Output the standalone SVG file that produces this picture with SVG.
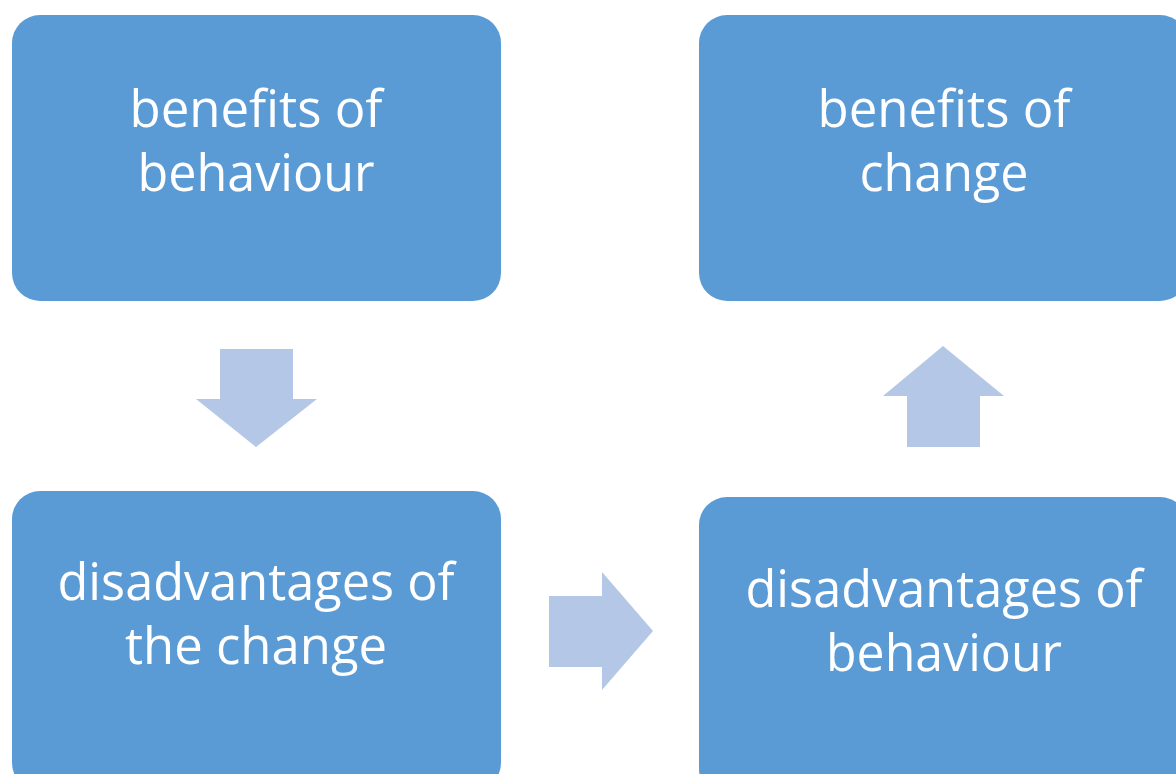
<svg xmlns="http://www.w3.org/2000/svg" width="1176" height="774" viewBox="0 0 1176 774">
<style>
.box{fill:#5B9BD5;}
.arr{fill:#B4C7E7;}
.t{font-family:"Open Sans","Liberation Sans",sans-serif;font-size:51px;fill:#FFFFFF;text-anchor:middle;}
</style>
<rect width="1176" height="774" fill="#FFFFFF"/>
<g id="node-benefits-behaviour">
<rect class="box" x="12" y="15" width="489" height="286" rx="28"/>
<text class="t" x="256" y="127" textLength="253" lengthAdjust="spacingAndGlyphs">benefits of</text>
<text class="t" x="256" y="191" textLength="237" lengthAdjust="spacingAndGlyphs">behaviour</text>
</g>
<g id="node-benefits-change">
<rect class="box" x="699" y="15" width="489" height="286" rx="28"/>
<text class="t" x="944" y="127" textLength="253" lengthAdjust="spacingAndGlyphs">benefits of</text>
<text class="t" x="944" y="191" textLength="169" lengthAdjust="spacingAndGlyphs">change</text>
</g>
<g id="node-disadvantages-change">
<rect class="box" x="12" y="491" width="489" height="300" rx="28"/>
<text class="t" x="256" y="600" textLength="397" lengthAdjust="spacingAndGlyphs">disadvantages of</text>
<text class="t" x="256" y="664" textLength="262" lengthAdjust="spacingAndGlyphs">the change</text>
</g>
<g id="node-disadvantages-behaviour">
<rect class="box" x="699" y="497" width="489" height="300" rx="28"/>
<text class="t" x="944" y="607" textLength="397" lengthAdjust="spacingAndGlyphs">disadvantages of</text>
<text class="t" x="944" y="671" textLength="236" lengthAdjust="spacingAndGlyphs">behaviour</text>
</g>
<g id="connectors">
<polygon class="arr" points="220,349 293,349 293,399 317,399 256,447 196,399 220,399"/>
<polygon class="arr" points="549,596 602,596 602,572 653,631 602,690 602,667 549,667"/>
<polygon class="arr" points="907,447 980,447 980,396 1004,396 943,346 883,396 907,396"/>
</g>
</svg>
